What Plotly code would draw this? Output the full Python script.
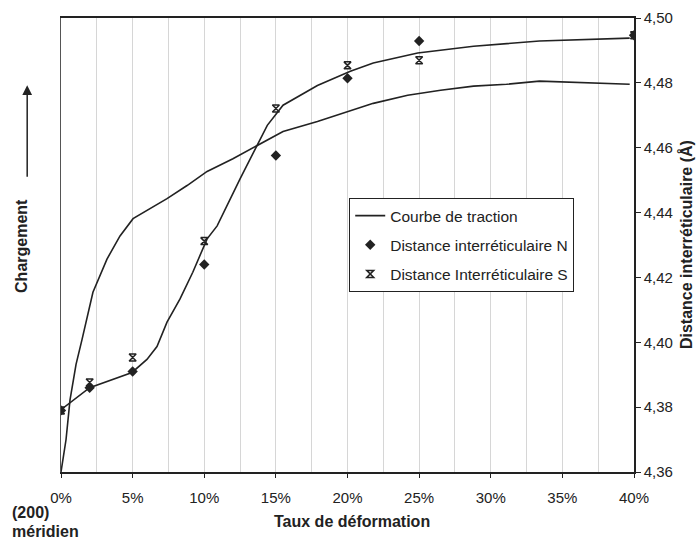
import plotly.graph_objects as go

# Courbe de traction (chargement, unites arbitraires 0-100)
traction_x = [0, 0.35, 0.63, 1.05, 1.47, 2.23, 3.21, 4.12, 5.03, 6.22, 7.4, 8.8,
              10.2, 12.0, 13.7, 15.5, 17.9, 20.2, 21.8, 24.2, 26.5, 28.8, 31.1,
              33.4, 35.8, 39.7]
traction_y = [0, 7.1, 15.9, 23.7, 29.2, 39.6, 46.9, 52.0, 55.8, 58.0, 60.2, 63.1,
              66.2, 69.0, 71.9, 75.0, 77.2, 79.6, 81.2, 83.0, 84.1, 85.0, 85.4,
              86.1, 85.8, 85.4]

# courbe lissee des distances
fit_x = [0, 2.0, 4.96, 6.0, 6.7, 7.4, 8.3, 9.2, 10.2, 10.9, 12.5, 13.7, 14.4,
         15.5, 17.9, 20.2, 21.8, 24.9, 28.8, 33.4, 39.7]
fit_y = [4.3792, 4.3860, 4.3907, 4.3947, 4.3987, 4.4062, 4.4133, 4.4216, 4.4319,
         4.4359, 4.4504, 4.4607, 4.4669, 4.4731, 4.4792, 4.4836, 4.4861, 4.4892,
         4.4913, 4.4929, 4.4938]

taux = [0, 2, 5, 10, 15, 20, 25, 40]
dist_N = [4.379, 4.386, 4.391, 4.424, 4.4576, 4.4814, 4.4929, 4.4947]
dist_S = [4.379, 4.3876, 4.3953, 4.4312, 4.4721, 4.4854, 4.4870, 4.4947]

x_ticks = [0, 5, 10, 15, 20, 25, 30, 35, 40]
x_labels = ["0%", "5%", "10%", "15%", "20%", "25%", "30%", "35%", "40%"]
y2_ticks = [4.36, 4.38, 4.40, 4.42, 4.44, 4.46, 4.48, 4.50]

FONT = "Liberation Sans, Arial, sans-serif"
INK = "#222222"

fig = go.Figure()

fig.add_trace(go.Scatter(x=traction_x, y=traction_y, mode="lines",
                         name="Courbe de traction", legendgroup="a",
                         line=dict(color=INK, width=1.6)))
fig.add_trace(go.Scatter(x=fit_x, y=fit_y, mode="lines", yaxis="y2",
                         showlegend=False, line=dict(color=INK, width=1.6)))
fig.add_trace(go.Scatter(x=taux, y=dist_N, mode="markers", yaxis="y2",
                         name="Distance interréticulaire N", legendgroup="b",
                         marker=dict(symbol="diamond", size=8, color=INK)))
fig.add_trace(go.Scatter(x=taux, y=dist_S, mode="markers", yaxis="y2",
                         name="Distance Interréticulaire S", legendgroup="c",
                         marker=dict(symbol="hourglass-open", size=7, color=INK,
                                     line=dict(color=INK, width=1.5))))

fig.update_layout(
    width=696, height=540,
    margin=dict(l=61, r=62, t=18, b=68),
    paper_bgcolor="white", plot_bgcolor="white",
    separators=", ",
    font=dict(family=FONT, size=15, color=INK),
    xaxis=dict(range=[0, 40], tickvals=x_ticks, ticktext=x_labels,
               showgrid=True, gridcolor="#d6d6d6", gridwidth=1,
               minor=dict(dtick=2.5, showgrid=True, gridcolor="#d6d6d6"),
               showline=True, linecolor=INK, linewidth=1.5, mirror=True,
               ticks="outside", ticklen=4, tickcolor=INK,
               ticklabelstandoff=7, zeroline=False, automargin=False),
    yaxis=dict(range=[0, 100], showticklabels=False, showgrid=False,
               zeroline=False, showline=True, linecolor="#555555",
               linewidth=1.2, ticks="", automargin=False),
    yaxis2=dict(range=[4.36, 4.50], tickvals=y2_ticks, tickformat=".2f",
                overlaying="y", side="right", showgrid=False, zeroline=False,
                showline=True, linecolor=INK, linewidth=1.5,
                ticks="outside", ticklen=5, tickcolor=INK,
                ticklabelstandoff=0, automargin=False),
    legend=dict(x=0.503, y=0.6035, xanchor="left", yanchor="top",
                bgcolor="white", bordercolor=INK, borderwidth=1,
                font=dict(size=15.5, color=INK), tracegroupgap=6,
                traceorder="grouped"),
    annotations=[
        dict(text="<b>Chargement</b>", xref="paper", yref="paper",
             x=-0.068, y=0.498, textangle=-90, showarrow=False,
             xanchor="center", yanchor="middle", font=dict(size=16)),
        dict(text="", xref="paper", yref="paper", x=-0.059, y=0.852,
             axref="pixel", ayref="pixel", ax=0, ay=93, showarrow=True,
             arrowhead=2, arrowsize=1.3, arrowwidth=1.5, arrowcolor=INK),
        dict(text="<b>Distance interréticulaire (Å)</b>", xref="paper",
             yref="paper", x=1.0908, y=0.50, textangle=-90, showarrow=False,
             xanchor="center", yanchor="middle", font=dict(size=16)),
        dict(text="<b>Taux de déformation</b>", xref="paper", yref="paper",
             x=0.508, y=-0.110, showarrow=False, xanchor="center",
             yanchor="middle", font=dict(size=16)),
        dict(text="<b>(200)</b>", xref="paper", yref="paper",
             x=-0.089, y=-0.0903, xanchor="left", yanchor="middle",
             showarrow=False, font=dict(size=16)),
        dict(text="<b>méridien</b>", xref="paper", yref="paper",
             x=-0.089, y=-0.132, xanchor="left", yanchor="middle",
             showarrow=False, font=dict(size=16)),
    ],
)

# page sans marge : la figure occupe exactement la fenetre
fig.write_html("out.html", config={"displayModeBar": False},
               post_script="document.body.style.margin='0';")
